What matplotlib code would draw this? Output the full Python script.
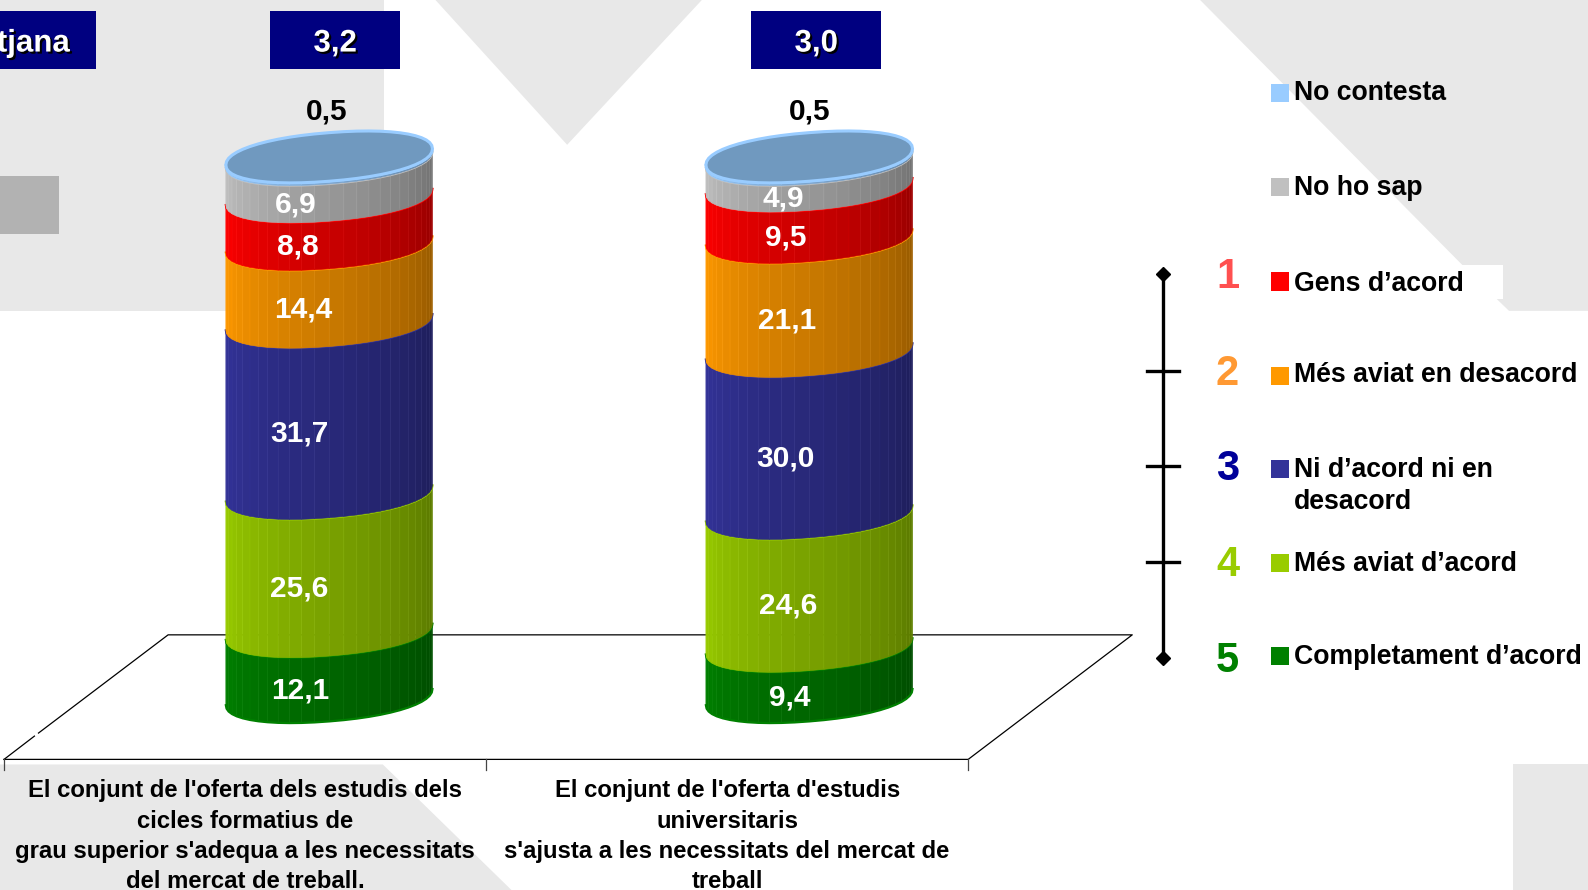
import numpy as np
import matplotlib
matplotlib.use("Agg")
import matplotlib.pyplot as plt
import matplotlib.patheffects as pe
from matplotlib.patches import Polygon, Rectangle

plt.rcParams["font.family"] = ["Liberation Sans", "DejaVu Sans"]

# Data (bottom to top)
categories = [
    "El conjunt de l'oferta dels estudis dels\ncicles formatius de\ngrau superior s'adequa a les necessitats\ndel mercat de treball.",
    "El conjunt de l'oferta d'estudis\nuniversitaris\ns'ajusta a les necessitats del mercat de\ntreball",
]
completament = [12.1, 9.4]
mes_acord = [25.6, 24.6]
ni_ni = [31.7, 30.0]
mes_desacord = [14.4, 21.1]
gens = [8.8, 9.5]
no_ho_sap = [6.9, 4.9]
no_contesta = [0.5, 0.5]
mitjana = ["3,2", "3,0"]

series = [completament, mes_acord, ni_ni, mes_desacord, gens, no_ho_sap, no_contesta]
colors = ["#008000", "#99CC00", "#333399", "#FF9900", "#FF0000", "#C0C0C0", "#99CCFF"]

legend_labels = ["No contesta", "No ho sap", "Gens d’acord", "Més aviat en desacord",
                 "Ni d’acord ni en\ndesacord", "Més aviat d’acord", "Completament d’acord"]
legend_colors = ["#99CCFF", "#C0C0C0", "#FF0000", "#FF9900", "#333399", "#99CC00", "#008000"]
scale_numbers = ["1", "2", "3", "4", "5"]
scale_colors = ["#FF5050", "#FF9933", "#000099", "#99CC00", "#008000"]

# label shift from the bar centre, in reference pixels
label_dx = [[-28, -29, -29, -25, -31, -33], [-19, -21, -23, -22, -23, -25]]

W, H = 1568, 879
PT = 0.7344  # reference pixel to points
fig = plt.figure(figsize=(15.88, 8.9), dpi=100)

# page axes in reference pixels, for the slide decoration and the texts
page = fig.add_axes([0, 0, 1, 1])
page.set_xlim(0, W)
page.set_ylim(H, 0)
page.axis("off")

grey = "#E8E8E8"
page.add_patch(Rectangle((0, 0), 379, 307, color=grey, lw=0))
page.add_patch(Polygon([(430, 0), (693, 0), (560, 143)], color=grey, lw=0))
page.add_patch(Polygon([(1185, 0), (1568, 0), (1568, 307), (1490, 307), (1462, 280)], color=grey, lw=0))
page.add_patch(Rectangle((1440, 262), 44, 33, color="white", lw=0))
page.add_patch(Polygon([(0, 755), (378, 755), (505, 879), (0, 879)], color=grey, lw=0))
page.add_patch(Rectangle((1494, 755), 74, 124, color=grey, lw=0))
page.add_patch(Rectangle((0, 174), 58, 57, color="#B2B2B2", lw=0))

# floor of the 3D chart
page.plot([4, 34], [750, 727], color="black", lw=0.9)
page.plot([38, 166, 1118, 956, 4], [724, 627, 627, 750, 750], color="black", lw=0.9)
for x in [4, 480, 956]:
    page.plot([x, x], [750, 760], color="#444444", lw=0.9)

# header boxes
shadow = [pe.withSimplePatchShadow(offset=(1.5, -1.5), shadow_rgbFace="black", alpha=1)]
page.add_patch(Rectangle((-40, 11), 135, 57, color="#000080", lw=0))
page.text(69, 43, "Mitjana", color="white", fontsize=22.5, fontweight="bold",
          ha="right", va="center", path_effects=shadow, clip_on=True)

# chart axes: x = bar index, y = cumulative percent
chart = fig.add_axes([0, 0, 1, 1])
chart.patch.set_alpha(0)
chart.axis("off")
px_x, px_y = 474.0, 5.335
x0, y0 = 325.0, 688.5
chart.set_xlim((0 - x0) / px_x, (W - x0) / px_x)
chart.set_ylim((y0 - H) / px_y, y0 / px_y)

rx = 102 / px_x
ry = 24 / px_y
tilt = 8 / px_y
t_front = np.linspace(np.pi, 0, 27)
t_back = np.linspace(0, -np.pi, 27)


def rim(x, y, t):
    # tilted, slightly squared ellipse of the cylinder at height y
    c = np.sign(np.cos(t)) * np.abs(np.cos(t)) ** 0.92
    s = np.sign(np.sin(t)) * np.abs(np.sin(t)) ** 0.92
    return x + rx * c, y - ry * s + tilt * c


def shade(color, f):
    c = np.array(matplotlib.colors.to_rgb(color))
    return tuple(c * f)


for i in range(len(categories)):
    bottom = 0.0
    for s, values in enumerate(series):
        v = values[i]
        top = bottom + v
        xb, yb = rim(i, bottom, t_front)
        xt, yt = rim(i, top, t_front)
        for k in range(len(t_front) - 1):
            f = 1.0 - 0.42 * k / (len(t_front) - 2)
            poly = [(xb[k], yb[k]), (xb[k + 1], yb[k + 1]), (xt[k + 1], yt[k + 1]), (xt[k], yt[k])]
            chart.add_patch(Polygon(poly, facecolor=shade(colors[s], f), edgecolor=shade(colors[s], min(f + 0.06, 1)),
                                    lw=0.4, zorder=3 + s))
        chart.plot(xt, yt, color=colors[s], lw=1.6, zorder=3 + s + 0.5)
        if s == 0:
            chart.plot(xb, yb, color=colors[s], lw=1.6, zorder=3)
        if s < len(series) - 1:
            chart.annotate(f"{v:.1f}".replace(".", ","), (i, bottom + v / 2),
                           xytext=(label_dx[i][s] * PT, -25.5 * PT), textcoords="offset points",
                           color="white", fontsize=21.5, fontweight="bold", ha="center", va="center", zorder=20)
        else:
            chart.annotate(f"{v:.1f}".replace(".", ","), (i, top),
                           xytext=([-2, 0][i] * PT, 45 * PT), textcoords="offset points",
                           color="black", fontsize=21.5, fontweight="bold", ha="center", va="center", zorder=20)
        bottom = top
    # top face
    xa, ya = rim(i, bottom, np.concatenate([t_front, t_back[1:]]))
    chart.add_patch(Polygon(np.column_stack([xa, ya]), facecolor="#7099BF", edgecolor="#99CCFF", lw=2.2, zorder=12))

    # header value above each bar
    xc = x0 + px_x * i + [6, 7][i]
    page.add_patch(Rectangle((xc - 64, 11), 128, 57, color="#000080", lw=0))
    page.text(xc, 43, mitjana[i], color="white", fontsize=22.5, fontweight="bold",
              ha="center", va="center", path_effects=shadow)

    # category labels under the floor
    for j, line in enumerate(categories[i].split("\n")):
        page.text(242 + 476 * i, 781 + 30 * j, line, fontsize=17.2, fontweight="bold",
                  ha="center", va="center", clip_on=True)

# legend
legend_y = [92, 185, 278, 371, 463, 556, 648]
text_y = [92, 186, 280, 370, 464, 557, 649]
for lab, col, ys, yt in zip(legend_labels, legend_colors, legend_y, text_y):
    page.add_patch(Rectangle((1255, ys - 9), 18, 18, color=col, lw=0))
    for j, line in enumerate(lab.split("\n")):
        page.text(1278, yt + 32 * j, line, fontsize=19.2, fontweight="bold", ha="left", va="center")

# 1 to 5 scale
scale_y = [271, 366, 460, 555, 650]
page.plot([1148, 1148], [scale_y[0], scale_y[-1]], color="black", lw=2.4)
page.plot([1148, 1148], [scale_y[0], scale_y[-1]], "D", color="black", ms=7.5)
for y in scale_y[1:-1]:
    page.plot([1133, 1164], [y, y], color="black", lw=2.4)
for num, col, y in zip(scale_numbers, scale_colors, scale_y):
    page.text(1212, y + 3, num, color=col, fontsize=30, fontweight="bold", ha="center", va="center")

fig.savefig("out.png", dpi=100)
